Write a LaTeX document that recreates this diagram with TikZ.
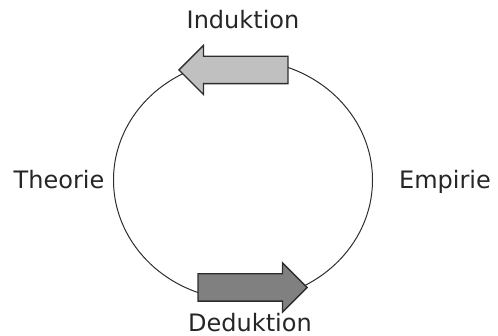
\documentclass[tikz,border=0pt]{standalone}
\usepackage{fontspec}
\setmainfont{DejaVu Sans}
\usetikzlibrary{shapes.arrows}
\definecolor{indcol}{RGB}{192,192,192}
\definecolor{dedcol}{RGB}{128,128,128}
\definecolor{rimcol}{RGB}{45,45,45}
\tikzset{every picture/.style={x=1pt,y=-1pt}}
\tikzset{ring/.style={draw=rimcol,line width=1pt}}
\tikzset{blockarrow/.style={single arrow,draw=rimcol,line width=1.3pt,minimum height=109pt,inner xsep=0pt,inner ysep=13pt,single arrow head extend=11pt,single arrow tip angle=90,single arrow head indent=0pt,anchor=tip}}
\tikzset{lbl/.style={font=\fontsize{24}{28}\selectfont,inner sep=0pt,anchor=base,text=black!85}}

\begin{document}
\begin{tikzpicture}
\useasboundingbox (0,0) rectangle (498,336);
\draw [ring] (243,180) ellipse [x radius=129.5pt, y radius=120pt];
\node [blockarrow,fill=indcol,shape border rotate=180] (ind) at (178,70) {};
\node [blockarrow,fill=dedcol] (ded) at (308,287.5) {};
\node [lbl] (indlbl) at (243,29) {Induktion};
\node [lbl] (dedlbl) at (250,331.5) {Deduktion};
\node [lbl] (theo) at (59,189) {Theorie};
\node [lbl] (emp) at (445,189) {Empirie};
\end{tikzpicture}
\end{document}
